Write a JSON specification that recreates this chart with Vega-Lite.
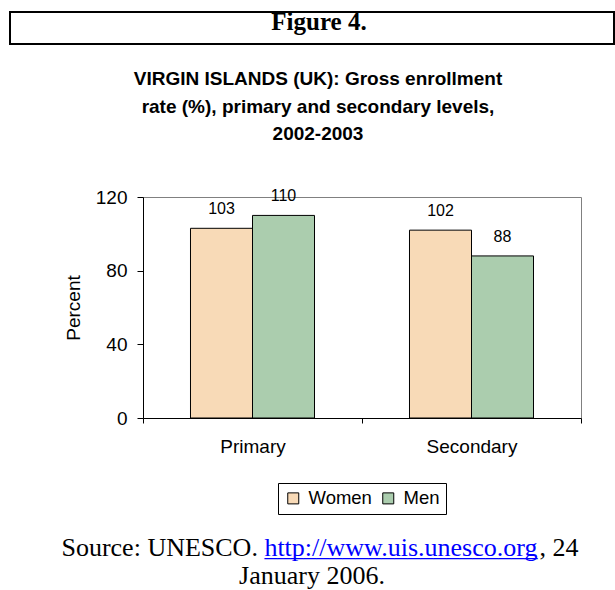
{
  "$schema": "https://vega.github.io/schema/vega-lite/v6.json",
  "padding": {"left": 9, "top": 9, "right": 0, "bottom": 0},
  "background": "white",
  "spacing": 24,
  "resolve": {"legend": {"color": "independent"}, "scale": {"color": "independent"}},
  "vconcat": [
    {
      "width": 604,
      "height": 32,
      "view": {"stroke": "black", "strokeWidth": 2},
      "data": {"values": [{"label": "Figure 4."}]},
      "mark": {"type": "text", "font": "Liberation Serif", "fontWeight": "bold", "fontSize": 25, "baseline": "alphabetic", "align": "center", "dy": 2, "dx": 7, "color": "black"},
      "encoding": {"text": {"field": "label", "type": "nominal"}}
    },
    {
      "spacing": 20,
      "resolve": {"legend": {"color": "independent"}, "scale": {"color": "independent"}},
      "vconcat": [
        {
          "spacing": 0,
          "resolve": {"legend": {"color": "independent"}, "scale": {"color": "independent"}},
          "hconcat": [
            {
              "width": 31,
              "height": 1,
              "view": {"stroke": null},
              "data": {"values": []},
              "mark": "point",
              "encoding": {}
            },
            {
              "width": 438,
              "height": 221,
              "title": {
                "text": ["VIRGIN ISLANDS (UK): Gross enrollment", "rate (%), primary and secondary levels,", "2002-2003"],
                "font": "Liberation Sans",
                "fontSize": 19,
                "fontWeight": "bold",
                "lineHeight": 27.5,
                "offset": 44,
                "color": "black",
                "anchor": "middle",
                "frame": "group",
                "dx": -44
              },
              "data": {
                "values": [
                  {"level": "Primary", "sex": "Women", "value": 103},
                  {"level": "Primary", "sex": "Men", "value": 110},
                  {"level": "Secondary", "sex": "Women", "value": 102},
                  {"level": "Secondary", "sex": "Men", "value": 88}
                ]
              },
              "encoding": {
                "x": {
                  "field": "level",
                  "type": "nominal",
                  "sort": ["Primary", "Secondary"],
                  "scale": {"paddingInner": 0, "paddingOuter": 0},
                  "axis": {
                    "title": null,
                    "labelAngle": 0,
                    "tickBand": "extent",
                    "tickSize": 5,
                    "labelPadding": 14,
                    "labelFont": "Liberation Sans",
                    "labelFontSize": 19,
                    "labelColor": "black",
                    "domainColor": "black",
                    "tickColor": "black"
                  }
                },
                "xOffset": {
                  "field": "sex",
                  "type": "nominal",
                  "sort": ["Women", "Men"],
                  "scale": {"paddingOuter": 0.766, "paddingInner": 0}
                },
                "y": {
                  "field": "value",
                  "type": "quantitative",
                  "scale": {"domain": [0, 120], "nice": false},
                  "axis": {
                    "values": [0, 40, 80, 120],
                    "title": ["", "Percent"],
                    "titleLineHeight": 22,
                    "titleFont": "Liberation Sans",
                    "titleFontSize": 19,
                    "titleFontWeight": "normal",
                    "titleColor": "black",
                    "titlePadding": 12,
                    "grid": false,
                    "tickSize": 6,
                    "labelPadding": 10,
                    "labelFont": "Liberation Sans",
                    "labelFontSize": 19,
                    "labelColor": "black",
                    "domainColor": "black",
                    "tickColor": "black"
                  }
                }
              },
              "layer": [
                {
                  "mark": {"type": "bar", "stroke": "black", "strokeWidth": 1},
                  "encoding": {
                    "color": {
                      "field": "sex",
                      "type": "nominal",
                      "scale": {"domain": ["Women", "Men"], "range": ["#f8dab7", "#abcdae"]},
                      "legend": {
                        "orient": "none",
                        "legendX": 135,
                        "legendY": 286,
                        "direction": "horizontal",
                        "title": null,
                        "symbolType": "square",
                        "symbolSize": 121,
                        "symbolStrokeColor": "black",
                        "symbolStrokeWidth": 1,
                        "labelFont": "Liberation Sans",
                        "labelFontSize": 18.5,
                        "labelColor": "black",
                        "labelOffset": 6,
                        "columnPadding": 7,
                        "strokeColor": "black",
                        "fillColor": "white",
                        "padding": 6
                      }
                    }
                  }
                },
                {
                  "mark": {"type": "text", "baseline": "alphabetic", "dy": -14, "font": "Liberation Sans", "fontSize": 16, "color": "black"},
                  "encoding": {"text": {"field": "value", "type": "quantitative"}}
                }
              ]
            }
          ]
        },
        {
          "width": 500,
          "height": 46,
          "view": {"stroke": null},
          "data": {"values": [{"source": "Source: UNESCO.", "url": "http://www.uis.unesco.org", "underline": "_____________________", "tail": ", 24", "date": "January 2006."}]},
          "layer": [
            {
              "mark": {"type": "text", "font": "Liberation Serif", "fontSize": 26, "baseline": "alphabetic", "align": "right", "dx": -2.1, "dy": -3, "color": "black"},
              "encoding": {"text": {"field": "source", "type": "nominal"}}
            },
            {
              "mark": {"type": "text", "font": "Liberation Serif", "fontSize": 26, "baseline": "alphabetic", "align": "left", "dx": 4.4, "dy": -3, "color": "#0000ff"},
              "encoding": {"text": {"field": "url", "type": "nominal"}}
            },
            {
              "mark": {"type": "text", "font": "Liberation Serif", "fontSize": 26, "baseline": "alphabetic", "align": "left", "dx": 4.4, "dy": -3, "color": "#0000ff"},
              "encoding": {"text": {"field": "underline", "type": "nominal"}}
            },
            {
              "mark": {"type": "text", "font": "Liberation Serif", "fontSize": 26, "baseline": "alphabetic", "align": "left", "dx": 279.6, "dy": -3, "color": "black"},
              "encoding": {"text": {"field": "tail", "type": "nominal"}}
            },
            {
              "mark": {"type": "text", "font": "Liberation Serif", "fontSize": 26, "baseline": "alphabetic", "align": "center", "dx": 52, "dy": 25, "color": "black"},
              "encoding": {"text": {"field": "date", "type": "nominal"}}
            }
          ]
        }
      ]
    }
  ],
  "config": {
    "view": {"stroke": "#808080", "strokeWidth": 1},
    "font": "Liberation Sans"
  }
}
